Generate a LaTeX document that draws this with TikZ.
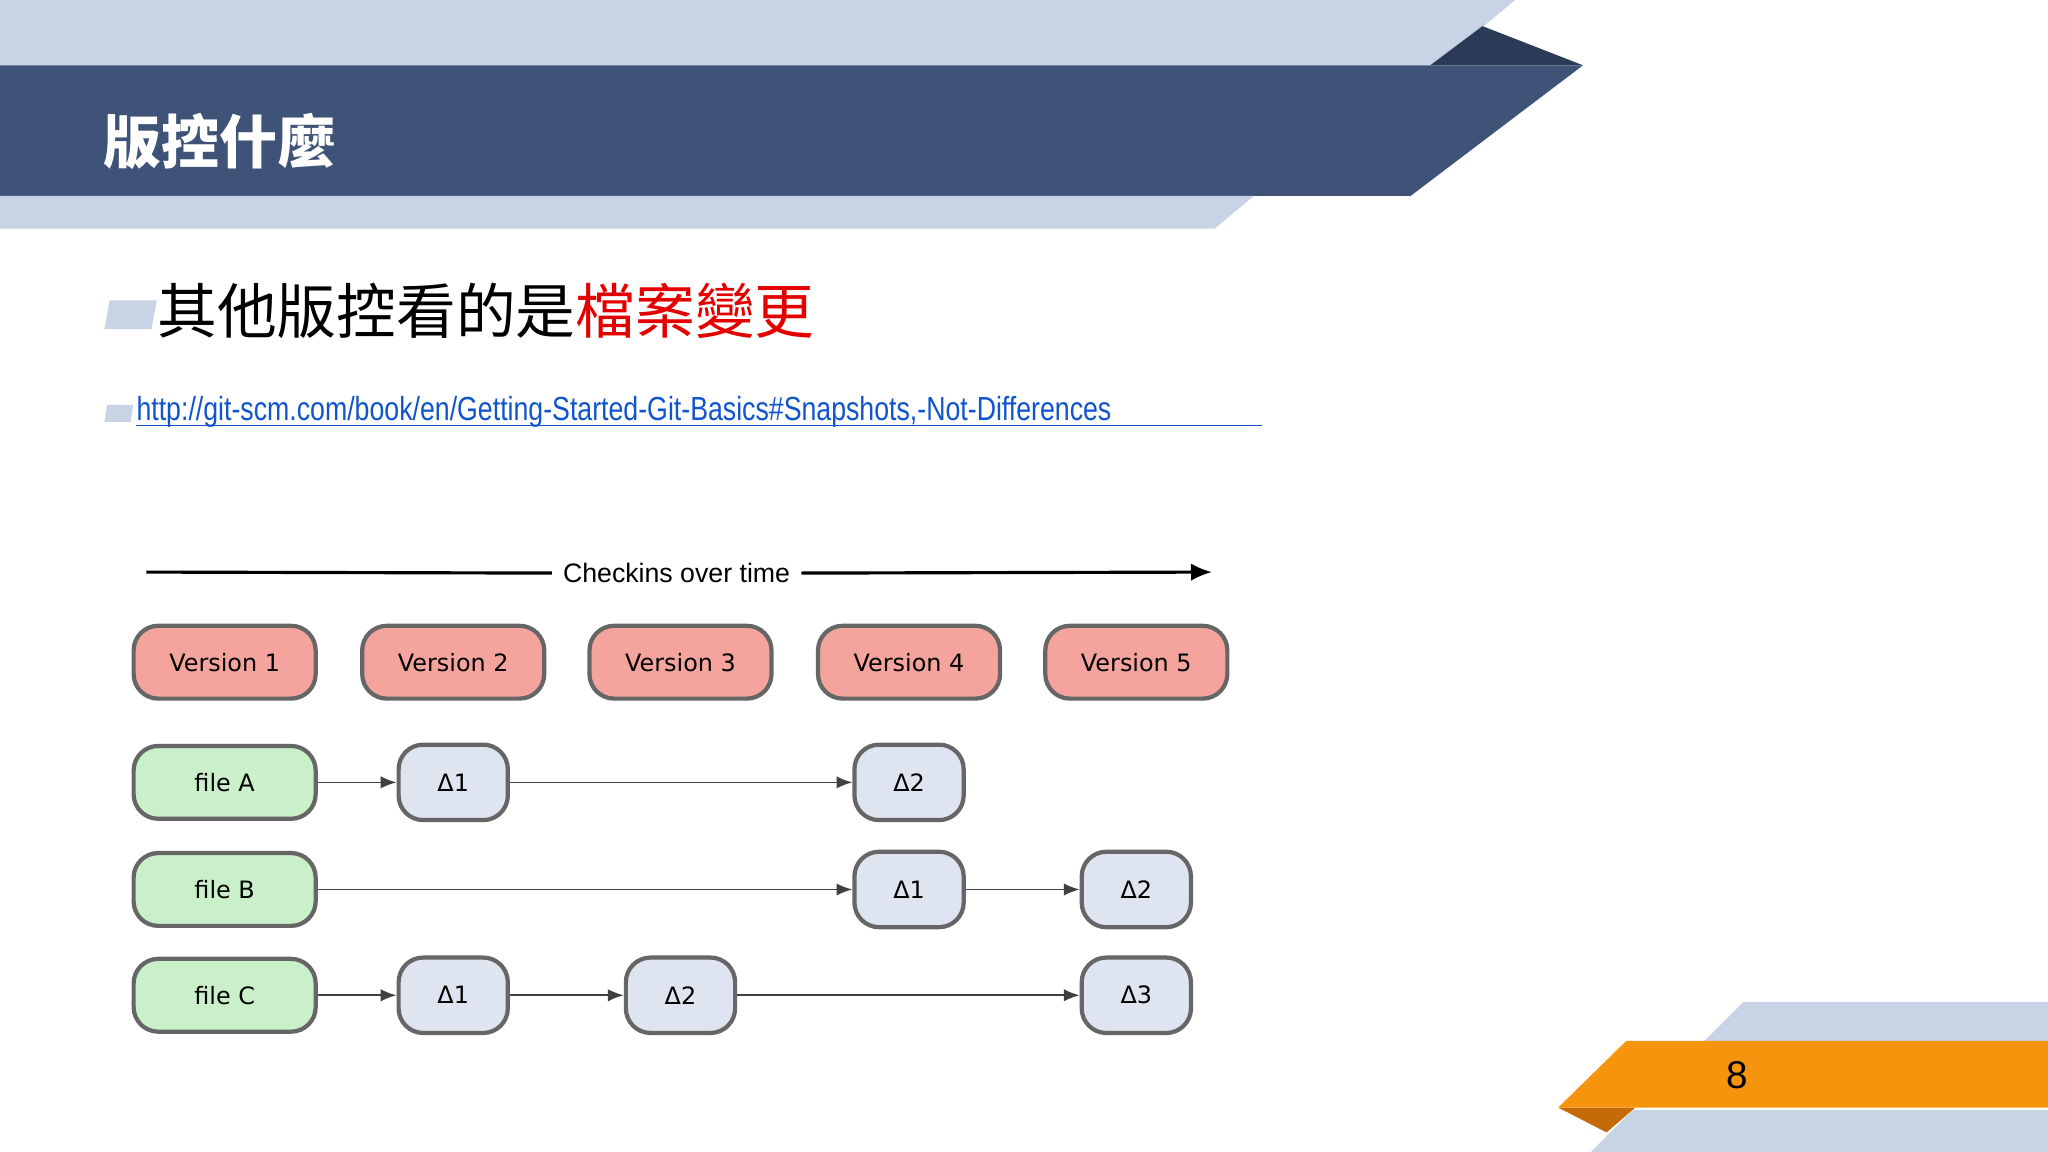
\documentclass[tikz,border=0pt]{standalone}
\usepackage{fontspec}
\setmainfont{Liberation Sans}
\newfontfamily\cjk{Noto Sans CJK TC}
\newfontfamily\dv{DejaVu Sans}
\newfontfamily\narrow[FakeStretch=0.8]{Liberation Sans}
\usetikzlibrary{arrows.meta}
\definecolor{lightb}{HTML}{C8D3E5}
\definecolor{darkb}{HTML}{3F5277}
\definecolor{darker}{HTML}{2B3A57}
\definecolor{orng}{HTML}{F7940E}
\definecolor{dorng}{HTML}{C46A08}
\definecolor{salmon}{HTML}{F4A49C}
\definecolor{mint}{HTML}{C9F0C9}
\definecolor{pale}{HTML}{DEE4F0}
\definecolor{bord}{HTML}{666666}
\definecolor{linkb}{HTML}{1155CC}
\tikzset{
 box/.style={draw=bord,line width=1.2pt,rounded corners=7pt,minimum height=56*0.37pt,inner sep=1pt,font=\dv\fontsize{6.8}{7}\selectfont},
 ver/.style={box,fill=salmon,minimum width=140*0.37pt},
 fil/.style={box,fill=mint,minimum width=140*0.37pt},
 del/.style={box,fill=pale,minimum width=84*0.37pt,minimum height=58*0.37pt},
 con/.style={draw=black!75,line width=0.45pt,-{Latex[length=4.5pt,width=3.5pt]}}
}
\begin{document}
\begin{tikzpicture}[x=0.013061cm,y=-0.013061cm]
\useasboundingbox (0,0) rectangle (1568,882);
\fill[white] (0,0) rectangle (1568,882);
% header
\fill[lightb] (0,0) -- (1160,0) -- (1100,50) -- (0,50) -- cycle;
\fill[darker] (1095,50) -- (1135,20) -- (1212,50) -- cycle;
\fill[darkb] (0,50) -- (1212,50) -- (1080,150) -- (0,150) -- cycle;
\fill[lightb] (0,150) -- (960,150) -- (930,175) -- (0,175) -- cycle;
\node[anchor=west,text=white,font=\cjk\bfseries\fontsize{16.5}{17}\selectfont,inner sep=0] (title) at (79,108) {版控什麼};
% bullet 1
\fill[lightb] (84,230) -- (120,230) -- (116,252) -- (80,252) -- cycle;
\node[anchor=west,font=\cjk\fontsize{17}{17}\selectfont,inner sep=0] (b1) at (120,238) {其他版控看的是\textcolor{red!90!black}{檔案變更}};
\fill[lightb] (82,310) -- (102,310) -- (100,323) -- (80,323) -- cycle;
\node[anchor=west,font=\narrow\fontsize{9.5}{10}\selectfont,text=linkb,inner sep=0] (link) at (104,315) {http://git-scm.com/book/en/Getting-Started-Git-Basics\#Snapshots,-Not-Differences};
\draw[linkb,line width=0.4pt] (104,326) -- (966,326);
% diagram
\node[font=\fontsize{7.6}{8}\selectfont,fill=white,inner sep=3pt] (chk) at (518,439) {Checkins over time};
\coordinate (s) at (112,438); \coordinate (e) at (928,438);
\draw[line width=0.9pt] (s) -- (chk);
\draw[line width=0.9pt,-{Latex[length=6pt,width=5pt]}] (chk) -- (e);
\foreach \i/\x in {1/172,2/347,3/521,4/696,5/870}
 \node[ver] (v\i) at (\x,507) {Version \i};
\node[fil] (fa) at (172,599) {file A};
\node[fil] (fb) at (172,681) {file B};
\node[fil] (fc) at (172,762) {file C};
\node[del] (a1) at (347,599) {Δ1};
\node[del] (a2) at (696,599) {Δ2};
\node[del] (b1d) at (696,681) {Δ1};
\node[del] (b2) at (870,681) {Δ2};
\node[del] (c1) at (347,762) {Δ1};
\node[del] (c2) at (521,762) {Δ2};
\node[del] (c3) at (870,762) {Δ3};
\draw[con] (fa) -- (a1); \draw[con] (a1) -- (a2);
\draw[con] (fb) -- (b1d); \draw[con] (b1d) -- (b2);
\draw[con] (fc) -- (c1); \draw[con] (c1) -- (c2); \draw[con] (c2) -- (c3);
% footer
\fill[lightb] (1305,797) -- (1335,767) -- (1568,767) -- (1568,797) -- cycle;
\fill[lightb] (1218,882) -- (1250,850) -- (1568,850) -- (1568,882) -- cycle;
\fill[dorng] (1193,848) -- (1252,848) -- (1230,867) -- cycle;
\fill[orng] (1193,848) -- (1245,797) -- (1568,797) -- (1568,848) -- cycle;
\node[font=\fontsize{11}{11}\selectfont] (pg) at (1330,823) {8};
\end{tikzpicture}
\end{document}
